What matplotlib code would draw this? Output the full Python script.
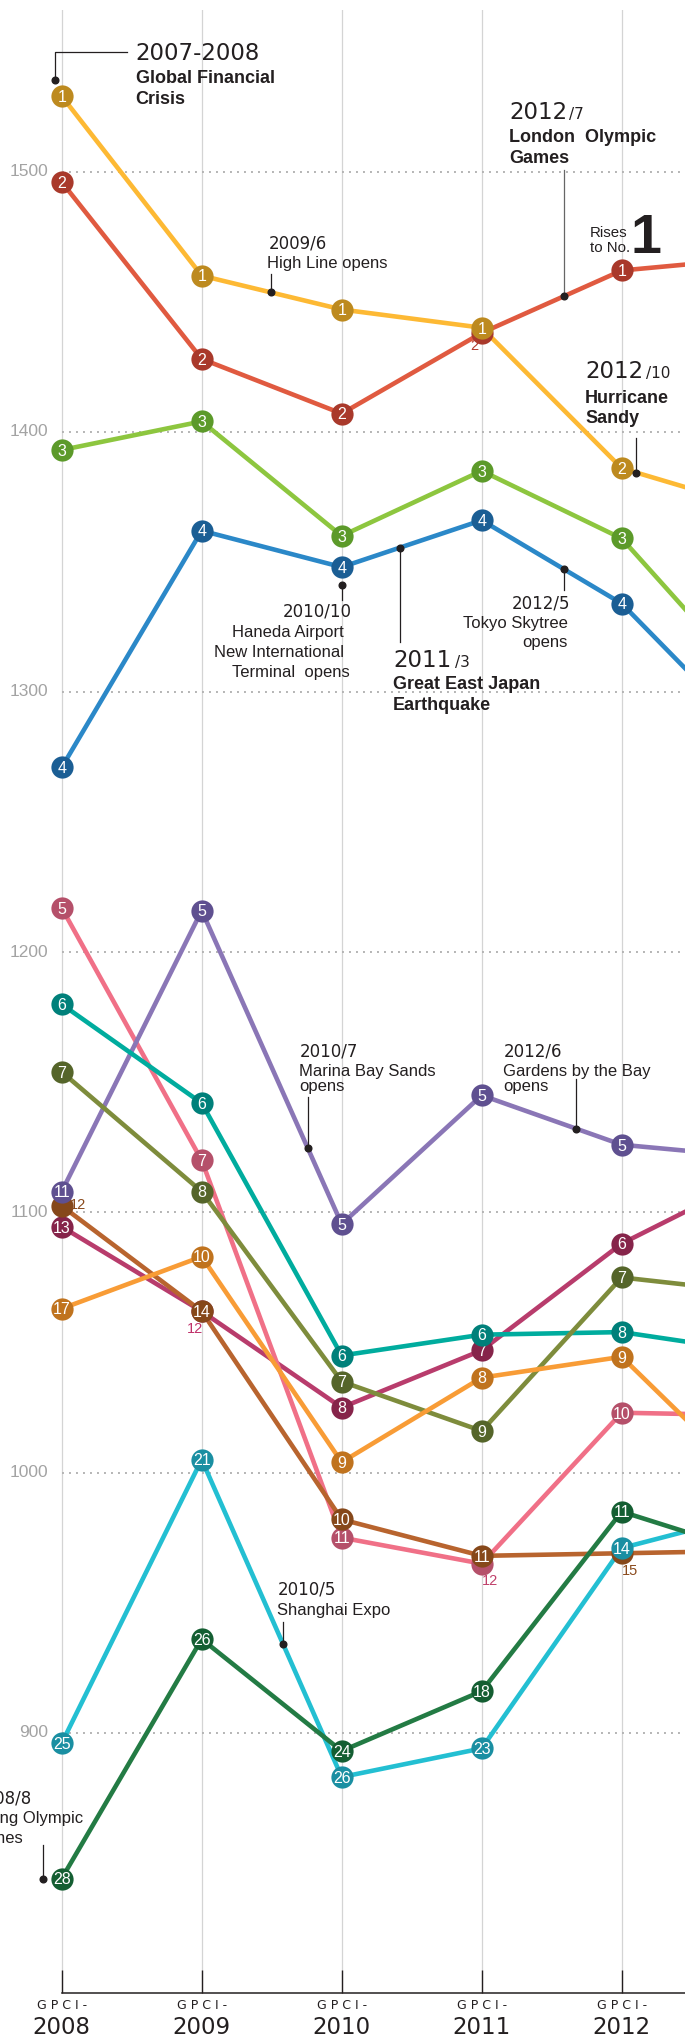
import numpy as np
import matplotlib
matplotlib.use("Agg")
import matplotlib.pyplot as plt
from matplotlib import font_manager


def pick(*names):
    for n in names:
        try:
            font_manager.findfont(n, fallback_to_default=False)
            return n
        except ValueError:
            pass
    return "DejaVu Sans"


SANS = pick("Liberation Sans", "Arial", "DejaVu Sans")
NARROW = pick("Liberation Sans Narrow", "Liberation Sans")
DATE = "DejaVu Sans"
INK = "#231f20"

# GPCI survey years; the 2013 column only shows as the line stubs at the right edge
years = [2008, 2009, 2010, 2011, 2012, 2013]

new_york = [1529, 1460, 1447, 1440, 1386, 1370]
london = [1496, 1428, 1407, 1438, 1462, 1467]
paris = [1393, 1404, 1360, 1385, 1359, 1299]
tokyo = [1271, 1362, 1348, 1366, 1334, 1279]
pink_city = [1217, 1120, 975, 965, 1023, 1022]
singapore = [1108, 1216, 1095.5, 1145, 1126, 1121]
teal_city = [1180, 1142, 1045, 1053, 1054, 1046]
olive_city = [1154, 1108, 1035, 1016, 1075, 1069]
maroon_city = [1094.5, 1062, 1025, 1047, 1088, 1115]
brown_city = [1102.5, 1062, 982, 968, 969, 970]
orange_city = [1063, 1083, 1004, 1036.5, 1044.5, 992]
cyan_city = [896, 1005, 883, 894, 971, 985]
green_city = [844, 936, 893, 916, 985, 968]

rank_new_york = [1, 1, 1, 1, 2]
rank_london = [2, 2, 2, 2, 1]
rank_paris = [3, 3, 3, 3, 3]
rank_tokyo = [4, 4, 4, 4, 4]
rank_pink = [5, 7, 11, 12, 10]
rank_singapore = [11, 5, 5, 5, 5]
rank_teal = [6, 6, 6, 6, 8]
rank_olive = [7, 8, 7, 9, 7]
rank_maroon = [13, 12, 8, 7, 6]
rank_brown = [12, 14, 10, 11, 15]
rank_orange = [17, 10, 9, 8, 9]
rank_cyan = [25, 21, 26, 23, 14]
rank_green = [28, 26, 24, 18, 11]

y_ticks = [900, 1000, 1100, 1200, 1300, 1400, 1500]

# pixel geometry of the original (685 x 2038)
W, H = 685, 2038
PX_YEAR = 140.0
X0 = 2008 - 61.7 / PX_YEAR
PX_UNIT = 2.602
Y1500 = 171.6


def px(x, y):
    return X0 + x / PX_YEAR, 1500 - (y - Y1500) / PX_UNIT


fig = plt.figure(figsize=(W / 100, H / 100), dpi=100)
ax = fig.add_axes([0, (H - 1993) / H, 1, (1993 - 10) / H])
ax.set_xlim(X0, X0 + W / PX_YEAR)
ax.set_ylim(px(0, 1993)[1], px(0, 10)[1])

for s in ["top", "right", "left"]:
    ax.spines[s].set_visible(False)
ax.spines["bottom"].set_bounds(2008, 2014)
ax.spines["bottom"].set_color(INK)
ax.spines["bottom"].set_linewidth(1.1)
ax.set_xticks(years[:5])
ax.set_yticks([])
ax.tick_params(axis="x", direction="in", length=16.5, width=1, color=INK, labelbottom=False)

for yr in years:
    ax.axvline(yr, color="#d4d4d4", lw=0.9, zorder=0)
for v in y_ticks:
    ax.hlines(v, 2008, 2014, color="#b4b4b4", lw=1.4, linestyle=(0, (1, 2.6)), zorder=0)
    ax.text(px(48, 0)[0], v, str(v), ha="right", va="center", fontsize=12.5,
            family=NARROW, color="#a3a3a3")

for yr in years[:5]:
    ax.text(yr, px(0, 2009)[1], "G P C I -", ha="center", va="baseline", fontsize=9,
            family=DATE, color=INK, clip_on=False)
    ax.text(yr, px(0, 2034)[1], str(yr), ha="center", va="baseline", fontsize=16.5,
            family=DATE, color=INK, clip_on=False)

# name, values, ranks, line colour, marker colour, hidden markers {index: (dx px, dy px, colour)}
series = [
    ("london", london, rank_london, "#e05a40", "#a9392b", {3: (-7, 17, "#b03a2e")}),
    ("new_york", new_york, rank_new_york, "#fdb934", "#bd8a1f", {}),
    ("paris", paris, rank_paris, "#8dc63f", "#5c9a2a", {}),
    ("tokyo", tokyo, rank_tokyo, "#2b88c8", "#1b5e94", {}),
    ("maroon", maroon_city, rank_maroon, "#b83c6c", "#86244a", {1: (-7, 22, "#c0306a")}),
    ("pink", pink_city, rank_pink, "#f07087", "#b5506a", {3: (8, 21, "#c0406a")}),
    ("brown", brown_city, rank_brown, "#b8642e", "#86481a",
     {0: (16.5, 3, "#8a4a1c"), 4: (8, 22, "#8a4a1c")}),
    ("singapore", singapore, rank_singapore, "#8a76b6", "#5f5090", {}),
    ("teal", teal_city, rank_teal, "#00ac9e", "#00807a", {}),
    ("olive", olive_city, rank_olive, "#7e8c3c", "#55652a", {}),
    ("orange", orange_city, rank_orange, "#f89c36", "#c0731e", {}),
    ("cyan", cyan_city, rank_cyan, "#23bfd2", "#1a8fa2", {}),
    ("green", green_city, rank_green, "#237b44", "#145e32", {}),
]

for i, (name, vals, ranks, lc, mc, hidden) in enumerate(series):
    ax.plot(years, vals, color=lc, lw=3.3, zorder=2, solid_joinstyle="round")
    z = 10 + 2 * i
    ax.plot(years[:5], vals[:5], "o", ms=16, mfc=mc, mec="none", zorder=z)
    for j, (yr, v, r) in enumerate(zip(years[:5], vals[:5], ranks)):
        if j in hidden:
            dx, dy, col = hidden[j]
            ax.text(yr + dx / PX_YEAR, v - dy / PX_UNIT, str(r), ha="center", va="baseline",
                    fontsize=10.5, family=NARROW, color=col, zorder=z + 1)
        else:
            ax.text(yr, v - 0.5, str(r), ha="center", va="center", fontsize=11.5,
                    family=NARROW, color="white", zorder=z + 1)


# ---- event annotations ----
def txt(x, y, s, size, **kw):
    kw.setdefault("family", SANS)
    kw.setdefault("color", INK)
    dx, dy = px(x, y)
    ax.text(dx, dy, s, fontsize=size, va="baseline", clip_on=False, zorder=60, **kw)


def dot(xd, yd):
    ax.plot([xd], [yd], "o", ms=4.8, color=INK, zorder=61)


def vline(xd, y0, y1, color=INK):
    ax.plot([xd, xd], [y0, y1], color=color, lw=0.9, zorder=59)


def on_line(vals, x):
    return float(np.interp(x, years, vals))


# points on the lines, as fractions of a survey year
event_x = {
    "highline": 2009.494, "london": 2011.588, "sandy": 2012.104, "quake": 2010.418,
    "skytree": 2011.591, "marina": 2009.756, "gardens": 2011.672, "expo": 2009.581,
}

# 2007-2008 Global Financial Crisis (above NY 2008 marker)
gx, gy = 2008 - 6.7 / PX_YEAR, new_york[0] + 16 / PX_UNIT
dot(gx, gy)
ax.plot([gx, gx, px(126.7, 0)[0]], [gy, px(0, 51.7)[1], px(0, 51.7)[1]], color=INK, lw=0.9, zorder=59)
txt(135.7, 60, "2007-2008", 16.5, family=DATE)
txt(135.7, 83.3, "Global Financial", 13, weight="bold")
txt(135.7, 104.3, "Crisis", 13, weight="bold")

# 2009/6 High Line
x = event_x["highline"]
y = on_line(new_york, x)
dot(x, y)
vline(x, y, px(0, 274)[1])
txt(268.7, 248.3, "2009/6", 12, family=DATE)
txt(266.5, 267.7, "High Line opens", 12)

# 2012/7 London Olympic Games
x = event_x["london"]
y = on_line(london, x)
dot(x, y)
vline(x, y, px(0, 170)[1], color="#666666")
txt(509.3, 119.3, "2012", 16.5, family=DATE)
txt(569, 119.3, "/7", 11, family=DATE)
txt(509.3, 141.7, "London  Olympic", 13, weight="bold")
txt(509.3, 162.7, "Games", 13, weight="bold")

# Rises to No.1
txt(590, 236.7, "Rises", 10.8)
txt(590, 251.7, "to No.", 10.8)
txt(630, 253.3, "1", 40, family=NARROW, weight="bold")

# 2012/10 Hurricane Sandy
x = event_x["sandy"]
y = on_line(new_york, x)
dot(x, y)
vline(x, y, px(0, 438)[1])
txt(585, 378.3, "2012", 16.5, family=DATE)
txt(646, 378.3, "/10", 11, family=DATE)
txt(585, 403.3, "Hurricane", 13, weight="bold")
txt(585, 423.3, "Sandy", 13, weight="bold")

# 2010/10 Haneda (below Tokyo 2010 marker)
hx, hy = 2010, tokyo[2] - 17.7 / PX_UNIT
dot(hx, hy)
vline(hx, hy, px(0, 600)[1])
txt(352, 616.7, "2010/10", 12, family=DATE, ha="right")
txt(344, 636.7, "Haneda Airport", 12, ha="right")
txt(344, 656.7, "New International", 12, ha="right")
txt(349.5, 676.7, "Terminal  opens", 12, ha="right")

# 2011/3 Great East Japan Earthquake
x = event_x["quake"]
y = on_line(tokyo, x)
dot(x, y)
vline(x, y, px(0, 641.7)[1])
txt(393.2, 666.7, "2011", 16.5, family=DATE)
txt(455, 666.7, "/3", 11, family=DATE)
txt(393.2, 689, "Great East Japan", 13, weight="bold")
txt(393.2, 710, "Earthquake", 13, weight="bold")

# 2012/5 Tokyo Skytree
x = event_x["skytree"]
y = on_line(tokyo, x)
dot(x, y)
vline(x, y, px(0, 590)[1])
txt(570, 608.3, "2012/5", 12, family=DATE, ha="right")
txt(568, 628.3, "Tokyo Skytree", 12, ha="right")
txt(568, 647.3, "opens", 12, ha="right")

# 2010/7 Marina Bay Sands
x = event_x["marina"]
y = on_line(singapore, x)
dot(x, y)
vline(x, y, px(0, 1096.7)[1])
txt(300, 1056, "2010/7", 12, family=DATE)
txt(299.3, 1076, "Marina Bay Sands", 12)
txt(299.3, 1090.7, "opens", 12)

# 2012/6 Gardens by the Bay
x = event_x["gardens"]
y = on_line(singapore, x)
dot(x, y)
vline(x, y, px(0, 1079)[1])
txt(503.3, 1056, "2012/6", 12, family=DATE)
txt(503.3, 1076, "Gardens by the Bay", 12)
txt(503.3, 1090.7, "opens", 12)

# 2010/5 Shanghai Expo
x = event_x["expo"]
y = on_line(cyan_city, x)
dot(x, y)
vline(x, y, px(0, 1621.7)[1])
txt(277.4, 1595, "2010/5", 12, family=DATE)
txt(277.4, 1615, "Shanghai Expo", 12)

# 2008/8 Beijing Olympic Games (left of the 2008 marker, cut by the edge as in the original)
bx, by = 2008 - 18.4 / PX_YEAR, green_city[0]
dot(bx, by)
vline(bx, by, px(0, 1845)[1])
txt(31.7, 1803.3, "2008/8", 12, family=DATE, ha="right")
txt(83.3, 1823.3, "Beijing Olympic", 12, ha="right")
txt(-31, 1843, "Games", 12)

fig.savefig("out.png", dpi=100)
